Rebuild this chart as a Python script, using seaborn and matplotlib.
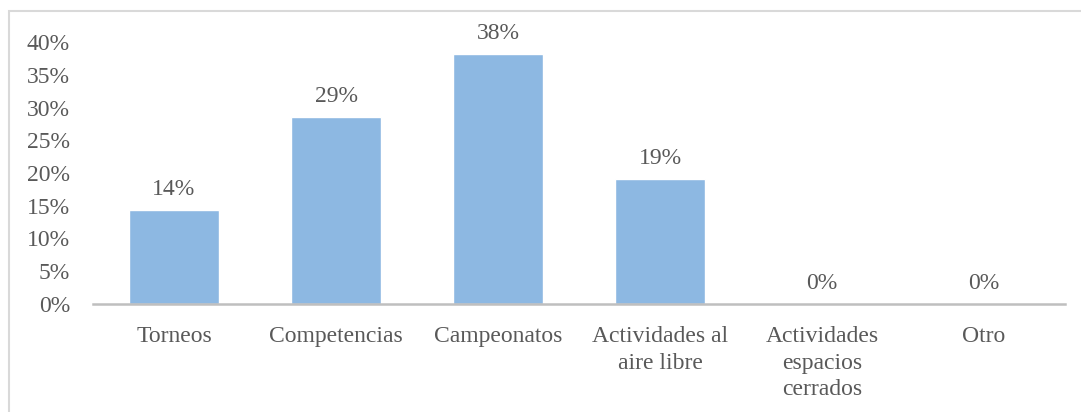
import matplotlib
matplotlib.use("Agg")
import matplotlib.pyplot as plt
from matplotlib.patches import Rectangle
import pandas as pd
import seaborn as sns

# Chart data
categorias = ["Torneos", "Competencias", "Campeonatos", "Actividades al\naire libre",
              "Actividades\nespacios\ncerrados", "Otro"]
valores = [0.1429, 0.2857, 0.3810, 0.1905, 0.0, 0.0]
etiquetas = ["14%", "29%", "38%", "19%", "0%", "0%"]
yticks = [0, 0.05, 0.10, 0.15, 0.20, 0.25, 0.30, 0.35, 0.40]
ytick_labels = ["0%", "5%", "10%", "15%", "20%", "25%", "30%", "35%", "40%"]

df = pd.DataFrame({"categoria": categorias, "valor": valores})

sns.set_style("white")
plt.rcParams['font.family'] = ['Liberation Serif', 'DejaVu Serif']
text_color = "#595959"
fs = 17

fig = plt.figure(figsize=(10.81, 4.12), dpi=100)
ax = fig.add_axes([93 / 1081, 1 - 304 / 412, (1065 - 93) / 1081, (304 - 42) / 412])

sns.barplot(data=df, x="categoria", y="valor", color="#8DB8E2", saturation=1,
            width=0.555, ax=ax)

ax.set_ylim(0, 0.40)
ax.set_yticks(yticks)
ax.set_yticklabels(ytick_labels)
ax.set_xlabel("")
ax.set_ylabel("")
ax.tick_params(axis="both", length=0, labelsize=fs, colors=text_color)
ax.tick_params(axis="x", pad=16)
ax.tick_params(axis="y", pad=16.5)
for lbl in ax.get_xticklabels():
    lbl.set_linespacing(1.35)

for side in ["top", "right", "left"]:
    ax.spines[side].set_visible(False)
ax.spines["bottom"].set_color("#BFBFBF")
ax.spines["bottom"].set_linewidth(1.8)

# value labels above bars
for i, (v, t) in enumerate(zip(valores, etiquetas)):
    ax.annotate(t, (i, v), xytext=(0, 15), textcoords="offset points",
                ha="center", va="center", fontsize=fs, color=text_color)

# outer chart border (cut by the image edges)
fig.patches.append(Rectangle((9 / 1081, -0.05), 1.1, 1 - 11 / 412 + 0.05,
                             transform=fig.transFigure, fill=False,
                             edgecolor="#D9D9D9", linewidth=1.5))

fig.savefig("out.png", dpi=100)
